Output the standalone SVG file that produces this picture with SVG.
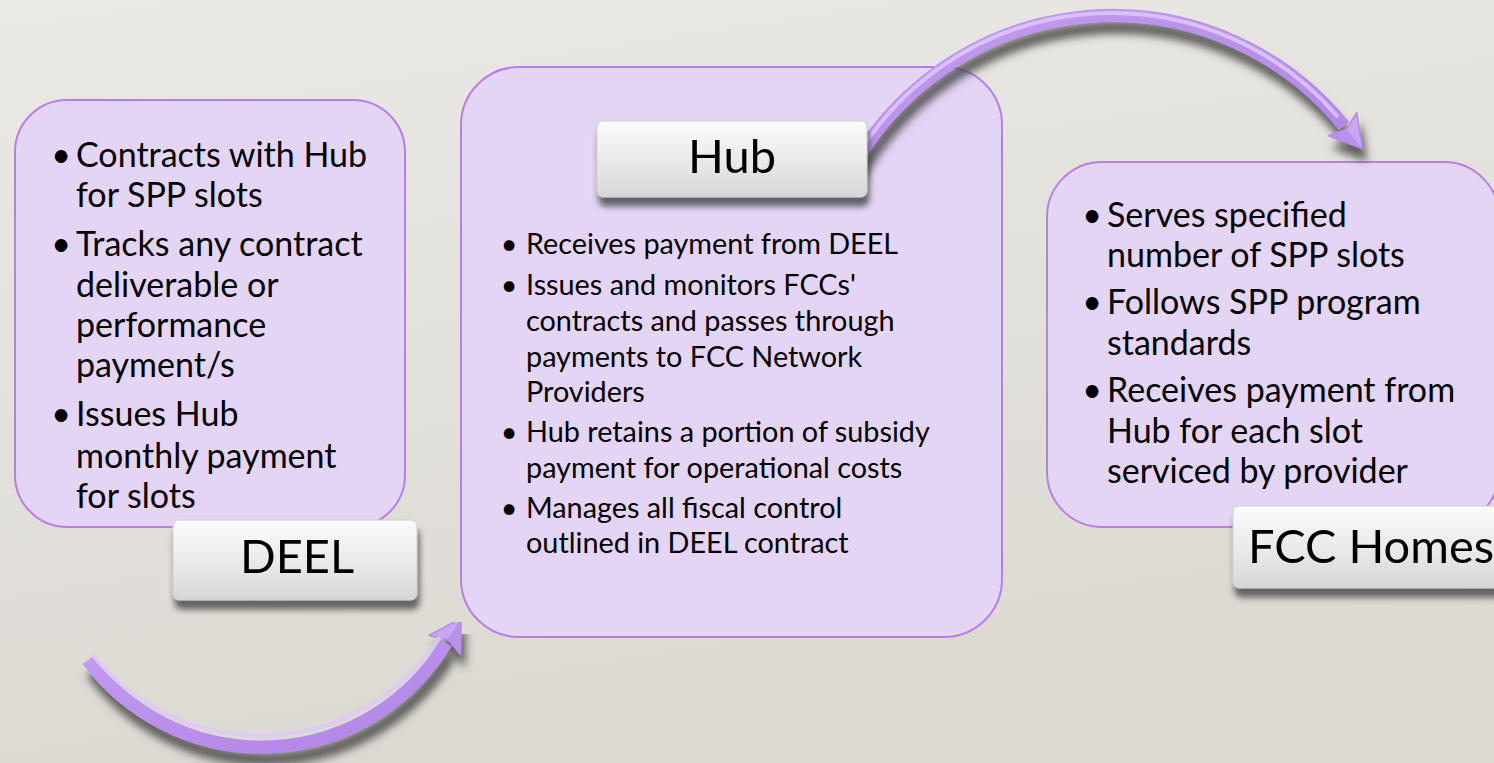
<svg xmlns="http://www.w3.org/2000/svg" width="1494" height="763" viewBox="0 0 1494 763">
  <defs>
    <linearGradient id="bg" x1="0" y1="0" x2="0.3" y2="1">
      <stop offset="0" stop-color="#ebe9e6"/>
      <stop offset="1" stop-color="#dcd9d2"/>
    </linearGradient>
    <linearGradient id="lbl" x1="0" y1="0" x2="0" y2="1">
      <stop offset="0" stop-color="#fbfbfb"/>
      <stop offset="0.55" stop-color="#e9e9e9"/>
      <stop offset="1" stop-color="#d6d6d6"/>
    </linearGradient>
    <linearGradient id="tubeG" x1="0" y1="0" x2="1" y2="1">
      <stop offset="0" stop-color="#c39cf0"/>
      <stop offset="1" stop-color="#b084e6"/>
    </linearGradient>
    <filter id="lblShadow" x="-10%" y="-20%" width="120%" height="160%">
      <feGaussianBlur in="SourceAlpha" stdDeviation="3"/>
      <feOffset dx="2" dy="9" result="b"/>
      <feFlood flood-color="#3a3a3a" flood-opacity="0.75"/>
      <feComposite in2="b" operator="in"/>
      <feMerge><feMergeNode/><feMergeNode in="SourceGraphic"/></feMerge>
    </filter>
    <filter id="arcShadow" x="-10%" y="-20%" width="120%" height="160%">
      <feGaussianBlur in="SourceAlpha" stdDeviation="4.5"/>
      <feOffset dx="4" dy="12" result="b"/>
      <feFlood flood-color="#3c3c3c" flood-opacity="0.8"/>
      <feComposite in2="b" operator="in"/>
      <feMerge><feMergeNode/><feMergeNode in="SourceGraphic"/></feMerge>
    </filter>
    <marker id="head" markerUnits="userSpaceOnUse" markerWidth="40" markerHeight="40" refX="2" refY="15" orient="auto" viewBox="0 0 30 30">
      <path d="M0,1 L24,15 L0,29 L5,15 z" fill="#c9a6f2" stroke="#b488e6" stroke-width="1"/>
      <path d="M5,15 L24,15 L0,29 z" fill="#b991ea"/>
    </marker>
    <style>
      .box { fill: #e5d5f5; stroke: #b77fe6; stroke-width: 2; }
      .lbl { fill: url(#lbl); stroke: #cfcfcf; stroke-width: 1; }
      .lt { font-family: Lato, "Open Sans", sans-serif; font-size: 47px; fill: #000; }
      .big { font-family: Lato, "Open Sans", sans-serif; font-size: 34px; fill: #000; }
      .sm { font-family: Lato, "Open Sans", sans-serif; font-size: 28.8px; fill: #000; }
      .bul { font-family: "DejaVu Sans", sans-serif; fill: #000; }
      .tube { fill: none; stroke: url(#tubeG); stroke-width: 13; stroke-linecap: butt; }
      .hl { fill: none; stroke: #dec9f9; stroke-width: 4; opacity: 0.85; }
    </style>
  </defs>

  <rect x="0" y="0" width="1494" height="763" fill="url(#bg)"/>

  <g id="deel-box">
    <rect class="box" x="15" y="100" width="390" height="427" rx="52"/>
    <text class="big" x="61" y="167" text-anchor="middle">•</text>
    <text class="big" x="76" y="167">Contracts with Hub</text>
    <text class="big" x="76" y="207">for SPP slots</text>
    <text class="big" x="61" y="256" text-anchor="middle">•</text>
    <text class="big" x="76" y="256">Tracks any contract</text>
    <text class="big" x="76" y="297">deliverable or</text>
    <text class="big" x="76" y="337">performance</text>
    <text class="big" x="76" y="377">payment/s</text>
    <text class="big" x="61" y="426" text-anchor="middle">•</text>
    <text class="big" x="76" y="426">Issues Hub</text>
    <text class="big" x="76" y="468">monthly payment</text>
    <text class="big" x="76" y="508">for slots</text>
  </g>

  <g id="hub-box">
    <rect class="box" x="461" y="67" width="541" height="570" rx="58"/>
    <text class="sm" x="509" y="254" text-anchor="middle">•</text>
    <text class="sm" x="526" y="254">Receives payment from DEEL</text>
    <text class="sm" x="509" y="295" text-anchor="middle">•</text>
    <text class="sm" x="526" y="295">Issues and monitors FCCs'</text>
    <text class="sm" x="526" y="331">contracts and passes through</text>
    <text class="sm" x="526" y="367">payments to FCC Network</text>
    <text class="sm" x="526" y="402">Providers</text>
    <text class="sm" x="509" y="442" text-anchor="middle">•</text>
    <text class="sm" x="526" y="442">Hub retains a portion of subsidy</text>
    <text class="sm" x="526" y="478">payment for operational costs</text>
    <text class="sm" x="509" y="518" text-anchor="middle">•</text>
    <text class="sm" x="526" y="518">Manages all fiscal control</text>
    <text class="sm" x="526" y="553">outlined in DEEL contract</text>
  </g>

  <g id="fcc-box">
    <rect class="box" x="1047" y="162" width="452" height="365" rx="55"/>
    <text class="big" x="1092" y="227" text-anchor="middle">•</text>
    <text class="big" x="1107" y="227">Serves specified</text>
    <text class="big" x="1107" y="267">number of SPP slots</text>
    <text class="big" x="1092" y="314" text-anchor="middle">•</text>
    <text class="big" x="1107" y="314">Follows SPP program</text>
    <text class="big" x="1107" y="355">standards</text>
    <text class="big" x="1092" y="402" text-anchor="middle">•</text>
    <text class="big" x="1107" y="402">Receives payment from</text>
    <text class="big" x="1107" y="443">Hub for each slot</text>
    <text class="big" x="1107" y="483">serviced by provider</text>
  </g>

  <g id="connectors">
    <g filter="url(#arcShadow)">
      <path class="tube" d="M 88 660 A 216 216 0 0 0 446 643" marker-end="url(#head)"/>
    </g>
    <path class="hl" d="M 92 657 A 214 214 0 0 0 440 640" transform="translate(0,-3)"/>
    <g filter="url(#arcShadow)">
      <path class="tube" d="M 850 172 A 298 298 0 0 1 1344 126" marker-end="url(#head)"/>
    </g>
    <path class="hl" d="M 852 168 A 298 298 0 0 1 1338 120" transform="translate(0,-3)"/>
  </g>

  <g id="deel-label" filter="url(#lblShadow)">
    <rect class="lbl" x="173" y="520" width="244" height="80" rx="6"/>
    <text class="lt" x="297" y="573" text-anchor="middle">DEEL</text>
  </g>

  <g id="hub-label" filter="url(#lblShadow)">
    <rect class="lbl" x="597" y="121" width="270" height="76" rx="6"/>
    <text class="lt" x="732" y="173" text-anchor="middle">Hub</text>
  </g>

  <g id="fcc-label" filter="url(#lblShadow)">
    <rect class="lbl" x="1233" y="506" width="280" height="82" rx="6"/>
    <text class="lt" x="1248" y="563">FCC Homes</text>
  </g>
</svg>
